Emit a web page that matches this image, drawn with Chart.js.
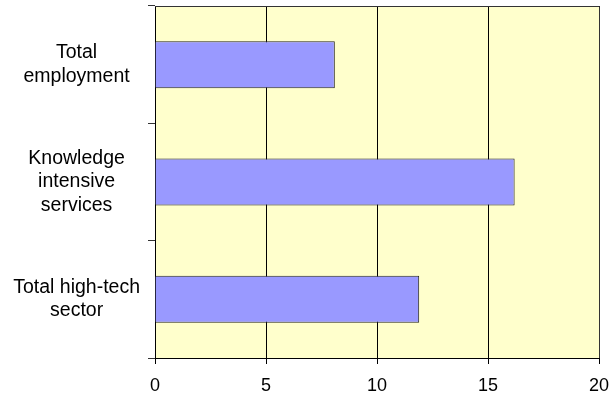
<!DOCTYPE html>
<html>
<head>
<meta charset="utf-8">
<script src="https://cdn.jsdelivr.net/npm/chart.js@4/dist/chart.umd.min.js"></script>
<style>
  html, body { margin: 0; padding: 0; background: #ffffff; }
  #wrap { width: 610px; height: 396px; position: relative; }
</style>
</head>
<body>
<div id="wrap"><canvas id="chart"></canvas></div>
<script>
// sectors, top to bottom
var sectors = [['Total', 'employment'], ['Knowledge', 'intensive', 'services'], ['Total high-tech', 'sector']];
// growth per sector
var growth = [8.1, 16.2, 11.9];
// x axis range and step
var xMin = 0, xMax = 20, xStep = 5;

/*
    Fills the plot area light yellow before drawing and puts a frame round it afterwards
*/
var plotFrame = {
    id: 'plotFrame',
    beforeDraw: function(chart)
    {
        var a = chart.chartArea, ctx = chart.ctx;
        ctx.save();
        ctx.fillStyle = '#ffffcc';
        ctx.fillRect(a.left, a.top, a.right - a.left, a.bottom - a.top);
        ctx.restore();
    },
    afterDraw: function(chart)
    {
        var a = chart.ctx, c = chart.chartArea;
        a.save();
        a.strokeStyle = '#333333';
        a.lineWidth = 1;
        a.beginPath();
        a.moveTo(c.left, c.top + 0.5);
        a.lineTo(c.right + 0.5, c.top + 0.5);
        a.lineTo(c.right + 0.5, c.bottom);
        a.stroke();
        a.restore();
    }
};

new Chart(document.getElementById('chart'), {
    type: 'bar',
    data: {
        labels: sectors,
        datasets: [{
            data: growth,
            backgroundColor: '#9999ff',
            borderColor: '#222222',
            borderWidth: 1,
            barPercentage: 0.4,
            categoryPercentage: 1
        }]
    },
    options: {
        indexAxis: 'y',
        responsive: true,
        maintainAspectRatio: false,
        animation: false,
        layout: { padding: { top: 6, right: 0, left: 0, bottom: 0 } },
        plugins: {
            legend: { display: false },
            tooltip: { enabled: false }
        },
        scales: {
            x: {
                min: xMin,
                max: xMax,
                ticks: {
                    stepSize: xStep,
                    color: '#000000',
                    padding: 11,
                    font: { family: 'Liberation Sans, Arial, sans-serif', size: 18 }
                },
                grid: { color: '#000000', tickLength: 6, lineWidth: 1 },
                border: { color: '#000000' },
                afterFit: function(scale)
                {
                    scale.height = 38;
                    scale.paddingLeft = 0;
                    scale.paddingRight = 11;
                }
            },
            y: {
                ticks: {
                    color: '#000000',
                    crossAlign: 'center',
                    padding: 8,
                    font: { family: 'Liberation Sans, Arial, sans-serif', size: 19.5, lineHeight: 1.2 }
                },
                grid: { drawOnChartArea: false, color: '#333333', tickLength: 7, offset: true },
                border: { color: '#000000' },
                afterFit: function(scale)
                {
                    //keep the multi-line labels from pushing the plot down
                    scale.width = 155;
                    scale.paddingTop = 0;
                    scale.paddingBottom = 0;
                }
            }
        }
    },
    plugins: [plotFrame]
});
</script>
</body>
</html>
